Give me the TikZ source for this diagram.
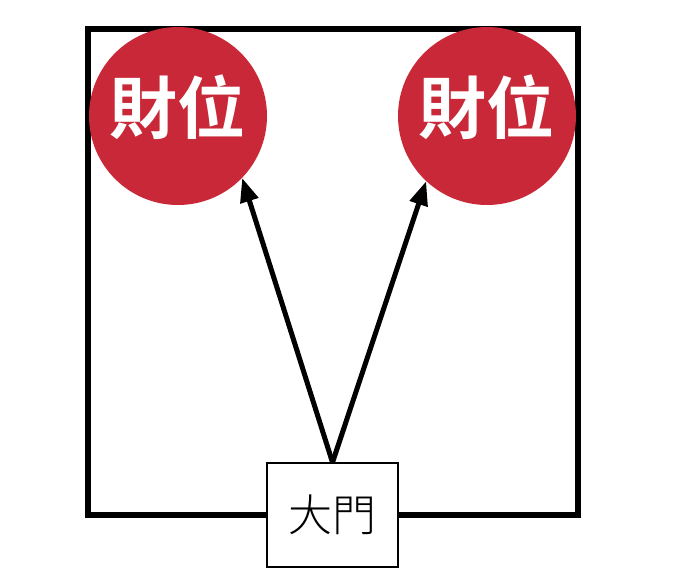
\documentclass[tikz,border=0pt]{standalone}
\usepackage{fontspec}
\newfontfamily\cjk{Noto Sans CJK TC Light}
\newfontfamily\cjkbold{Noto Sans CJK TC Bold}
\usetikzlibrary{arrows.meta}
\definecolor{wealthred}{RGB}{200,40,56}
\tikzset{
  room/.style={draw=black, line width=5.5pt},
  spot/.style={circle, fill=wealthred, minimum size=178pt, inner sep=0pt},
  spottext/.style={text=white, font=\cjkbold\fontsize{68}{68}\selectfont},
  doorbox/.style={draw=black, line width=1.3pt, fill=white, minimum width=131pt, minimum height=104pt, inner sep=0pt, font=\cjk\fontsize{44}{44}\selectfont},
  flow/.style={line width=5pt, -{Triangle[length=24pt,width=18pt]}}
}
\begin{document}
\begin{tikzpicture}[x=1pt,y=-1pt]
\useasboundingbox (0,0) rectangle (673,584);
\node[room, minimum width=490pt, minimum height=486pt, inner sep=0pt] (room) at (333,272) {};
\node[spot] (L) at (178,116) {};
\node[spot] (R) at (487,116) {};
\node[spottext] (Lt) at (177,107) {財位};
\node[spottext] (Rt) at (486,107) {財位};
\node[doorbox] (door) at (332.5,515) {大門};
\draw[flow] (door.north) -- (L.-44);
\draw[flow] (door.north) -- (R.-133);
\end{tikzpicture}
\end{document}
